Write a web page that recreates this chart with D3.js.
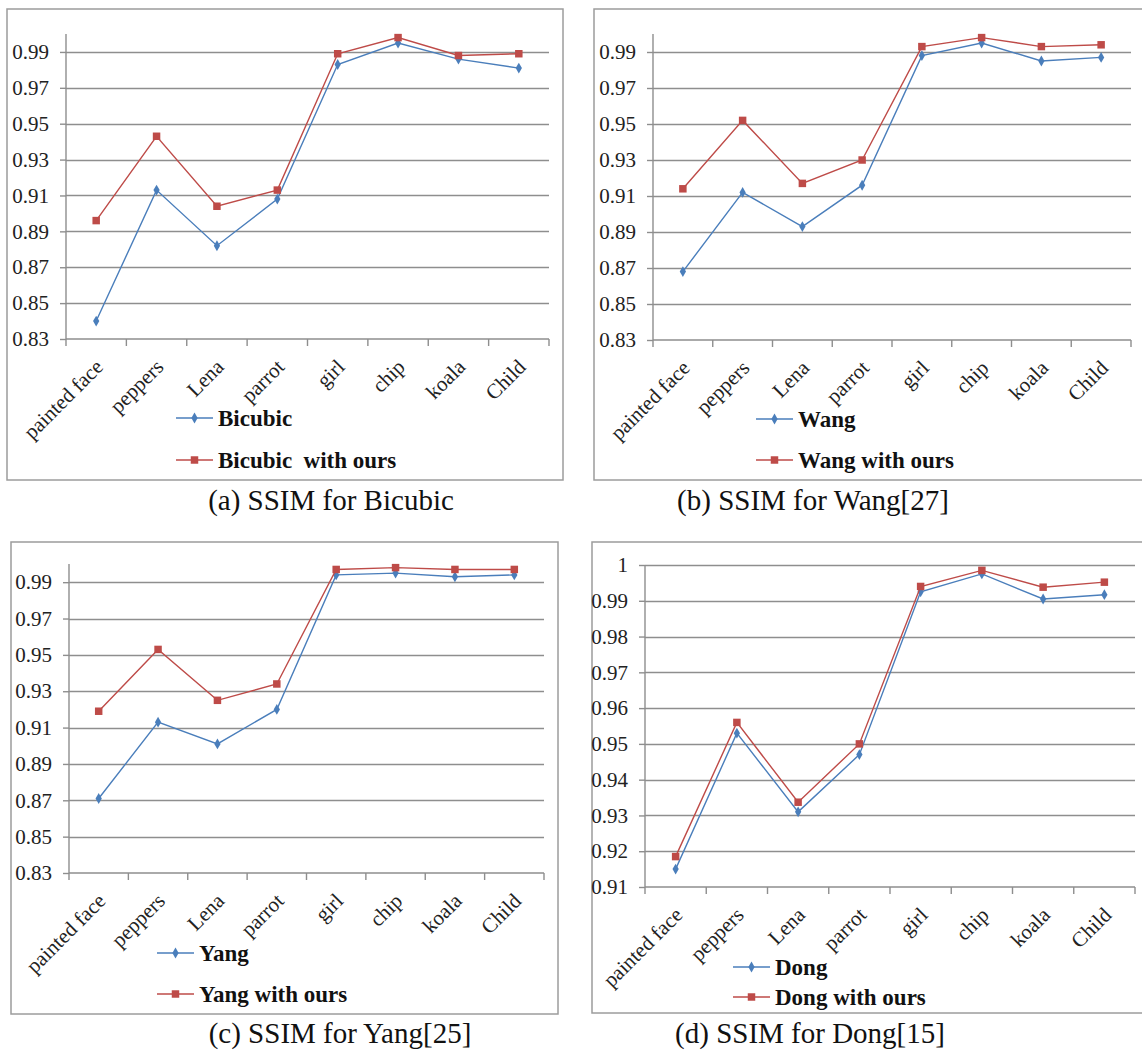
<!DOCTYPE html>
<html>
<head>
<meta charset="utf-8">
<script src="https://cdn.jsdelivr.net/npm/d3@7"></script>
<style>
  html, body { margin: 0; padding: 0; background: #fff; }
  svg { display: block; }
  svg text { font-family: "Liberation Serif", "Times New Roman", Times, "DejaVu Serif", "Noto Serif", serif !important; white-space: pre; }
</style>
</head>
<body>
<svg id="chart" width="1142" height="1055"></svg>
<script>
// Test images on the x axis, shared by all four panels
const categories = ["painted face", "peppers", "Lena", "parrot", "girl", "chip", "koala", "Child"];

// SSIM per image: baseline method vs. the same method combined with ours
const bicubic      = [0.840, 0.913, 0.882, 0.908, 0.983, 0.995, 0.986, 0.981];
const bicubicOurs  = [0.896, 0.943, 0.904, 0.913, 0.989, 0.998, 0.988, 0.989];
const wang         = [0.868, 0.912, 0.893, 0.916, 0.988, 0.995, 0.985, 0.987];
const wangOurs     = [0.914, 0.952, 0.917, 0.930, 0.993, 0.998, 0.993, 0.994];
const yang         = [0.871, 0.913, 0.901, 0.920, 0.994, 0.995, 0.993, 0.994];
const yangOurs     = [0.919, 0.953, 0.925, 0.934, 0.997, 0.998, 0.997, 0.997];
const dong         = [0.915, 0.953, 0.931, 0.947, 0.9925, 0.9975, 0.9905, 0.9917];
const dongOurs     = [0.9185, 0.956, 0.9337, 0.950, 0.9940, 0.9985, 0.9938, 0.9952];

// Value axis ticks
const ticksWide = [0.83, 0.85, 0.87, 0.89, 0.91, 0.93, 0.95, 0.97, 0.99];
const ticksDong = [0.91, 0.92, 0.93, 0.94, 0.95, 0.96, 0.97, 0.98, 0.99, 1.0];

// Legend entries and captions
const legendA = ["Bicubic", "Bicubic  with ours"];
const legendB = ["Wang", "Wang with ours"];
const legendC = ["Yang", "Yang with ours"];
const legendD = ["Dong", "Dong with ours"];
const captions = ["(a) SSIM for Bicubic", "(b) SSIM for Wang[27]", "(c) SSIM for Yang[25]", "(d) SSIM for Dong[15]"];

const BLUE = "#4a7ebb";
const RED = "#be4b48";
const GRID = "#8e8e8e";
const SERIF = "'Liberation Serif', 'Times New Roman', Times, 'DejaVu Serif', serif";

// Panel layout
const panels = [
  { box: [7, 9, 556, 471],   x: [66, 549],   y: [339, 34],  domain: [0.83, 1.0], ticks: ticksWide,
    s1: bicubic, s2: bicubicOurs, legend: legendA, leg: [176, 418, 460], cap: captions[0], capPos: [331, 510] },
  { box: [594, 9, 560, 471], x: [653, 1131], y: [340, 34],  domain: [0.83, 1.0], ticks: ticksWide,
    s1: wang, s2: wangOurs, legend: legendB, leg: [756, 419, 460], cap: captions[1], capPos: [813, 510] },
  { box: [11, 542, 547, 472], x: [69, 544],  y: [873, 564], domain: [0.83, 1.0], ticks: ticksWide,
    s1: yang, s2: yangOurs, legend: legendC, leg: [157, 953, 994], cap: captions[2], capPos: [340, 1043] },
  { box: [592, 542, 560, 471], x: [645, 1135], y: [887, 565], domain: [0.91, 1.0], ticks: ticksDong,
    s1: dong, s2: dongOurs, legend: legendD, leg: [733, 967, 997], cap: captions[3], capPos: [810, 1043] }
];

const svg = d3.select("#chart");
const diamond = d3.symbol().type(d3.symbolDiamond).size(34);
const square = d3.symbol().type(d3.symbolSquare).size(56);

panels.forEach(p => {
  const g = svg.append("g").attr("font-family", SERIF);

  // chart frame
  g.append("rect")
    .attr("x", p.box[0]).attr("y", p.box[1])
    .attr("width", p.box[2]).attr("height", p.box[3])
    .attr("fill", "none").attr("stroke", "#9c9c9c").attr("stroke-width", 1.5);

  const x = d3.scaleBand().domain(categories).range(p.x).paddingInner(0).paddingOuter(0);
  const y = d3.scaleLinear().domain(p.domain).range(p.y);
  const cx = d => x(d) + x.bandwidth() / 2;

  // horizontal gridlines
  g.append("g").selectAll("line")
    .data(p.ticks.filter(t => t > p.domain[0]))
    .join("line")
    .attr("x1", p.x[0]).attr("x2", p.x[1])
    .attr("y1", d => Math.round(y(d)) + 0.5).attr("y2", d => Math.round(y(d)) + 0.5)
    .attr("stroke", GRID).attr("stroke-width", 1.4);

  // value axis
  const yAxis = d3.axisLeft(y).tickValues(p.ticks).tickSize(6).tickPadding(11)
    .tickFormat(d => d === 1 ? "1" : d3.format(".2f")(d));
  const ya = g.append("g").attr("transform", `translate(${p.x[0]},0)`).call(yAxis)
    .attr("font-family", SERIF);
  ya.select(".domain").attr("stroke", GRID).attr("stroke-width", 1.4).attr("d", `M0,${p.y[1]}V${p.y[0]}`);
  ya.selectAll(".tick line").attr("stroke", GRID).attr("stroke-width", 1.4);
  ya.selectAll(".tick text").attr("font-size", 21).attr("fill", "#222");

  // category axis with ticks at band boundaries
  const xa = g.append("g").attr("transform", `translate(0,${p.y[0]})`);
  xa.append("line").attr("x1", p.x[0]).attr("x2", p.x[1]).attr("y1", 0).attr("y2", 0)
    .attr("stroke", GRID).attr("stroke-width", 1.4);
  xa.selectAll("line.tk")
    .data(d3.range(categories.length + 1))
    .join("line").attr("class", "tk")
    .attr("x1", i => p.x[0] + i * x.step()).attr("x2", i => p.x[0] + i * x.step())
    .attr("y1", 0).attr("y2", 7)
    .attr("stroke", GRID).attr("stroke-width", 1.4);
  xa.selectAll("text")
    .data(categories)
    .join("text")
    .attr("transform", d => `translate(${cx(d) + 3},${24}) rotate(-45)`)
    .attr("text-anchor", "end")
    .attr("dy", "0.35em")
    .attr("font-size", 21).attr("fill", "#222")
    .text(d => d);

  // series lines and markers
  const line = d3.line().x((d, i) => cx(categories[i])).y(d => y(d));
  [[p.s1, BLUE, diamond], [p.s2, RED, square]].forEach(([vals, col, sym]) => {
    g.append("path").datum(vals).attr("d", line)
      .attr("fill", "none").attr("stroke", col).attr("stroke-width", 1.4);
    g.append("g").selectAll("path")
      .data(vals).join("path")
      .attr("transform", (d, i) => `translate(${cx(categories[i])},${y(d)})`)
      .attr("d", sym).attr("fill", col);
  });

  // legend
  const lg = g.append("g");
  [[BLUE, diamond], [RED, square]].forEach(([col, sym], i) => {
    const ly = p.leg[1 + i];
    lg.append("line").attr("x1", p.leg[0]).attr("x2", p.leg[0] + 37).attr("y1", ly).attr("y2", ly)
      .attr("stroke", col).attr("stroke-width", 1.4);
    lg.append("path").attr("transform", `translate(${p.leg[0] + 18.5},${ly})`).attr("d", sym).attr("fill", col);
    lg.append("text").attr("x", p.leg[0] + 42).attr("y", ly).attr("dy", "0.35em")
      .attr("font-size", 23).attr("font-weight", "bold").attr("fill", "#111")
      .text(p.legend[i]);
  });

  // caption under the chart
  g.append("text").attr("x", p.capPos[0]).attr("y", p.capPos[1])
    .attr("text-anchor", "middle").attr("font-size", 29).attr("fill", "#111")
    .text(p.cap);
});
</script>
</body>
</html>
